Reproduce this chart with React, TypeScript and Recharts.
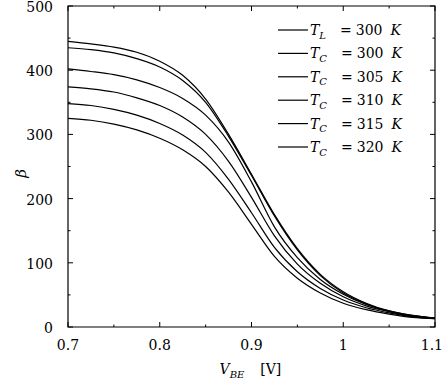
import { Legend, Line, LineChart, ReferenceArea, XAxis, YAxis } from "recharts";

// V_BE sweep (V)
const vbe = [0.7, 0.725, 0.75, 0.775, 0.8, 0.825, 0.85, 0.875, 0.9, 0.925, 0.95, 0.975, 1.0, 1.025, 1.05, 1.075, 1.1];

// current gain beta for each temperature
const betaTL300 = [445, 441, 436, 428, 414, 392, 355, 300, 238, 175, 122, 82, 55, 37, 25, 18, 14];
const betaTC300 = [435, 432, 427, 418, 405, 384, 350, 297, 236, 173, 120, 80, 53, 36, 24, 17, 14];
const betaTC305 = [402, 398, 393, 385, 373, 356, 330, 288, 226, 156, 108, 74, 51, 35, 25, 18, 14];
const betaTC310 = [374, 371, 366, 357, 345, 327, 300, 258, 202, 142, 98, 68, 47, 33, 24, 17, 14];
const betaTC315 = [348, 345, 339, 330, 317, 299, 272, 230, 178, 124, 86, 60, 42, 30, 22, 16, 13];
const betaTC320 = [325, 322, 316, 307, 294, 276, 250, 210, 160, 110, 76, 53, 37, 27, 20, 15, 13];

const seriesKeys = ["tl300", "tc300", "tc305", "tc310", "tc315", "tc320"];
const seriesValues = [betaTL300, betaTC300, betaTC305, betaTC310, betaTC315, betaTC320];
const legendSubs = ["L", "C", "C", "C", "C", "C"];
const legendTemps = ["300", "300", "305", "310", "315", "320"];

const xTicks = [0.7, 0.75, 0.8, 0.85, 0.9, 0.95, 1.0, 1.05, 1.1];
const xTickLabels = ["0.7", "", "0.8", "", "0.9", "", "1", "", "1.1"];
const yTicks = [0, 50, 100, 150, 200, 250, 300, 350, 400, 450, 500];
const yTickLabels = ["0", "", "100", "", "200", "", "300", "", "400", "", "500"];

const data = vbe.map((v, i) => {
  const row: Record<string, number> = { vbe: v };
  seriesKeys.forEach((k, s) => (row[k] = seriesValues[s][i]));
  return row;
});

const W = 444;
const H = 379;
const MARGIN = { top: 6, right: 9, left: 0, bottom: 0 };
const Y_AXIS_W = 68;
const X_AXIS_H = 52;
const PLOT_W = W - MARGIN.right - Y_AXIS_W;
const PLOT_H = H - MARGIN.top - X_AXIS_H;
const FONT = "DejaVu Serif";
const FS = 14;

function XTick(props: any) {
  const { x, y, index } = props;
  const label = xTickLabels[index];
  const len = label ? 5 : 2.5;
  const last = index === xTicks.length - 1;
  return (
    <g>
      <line x1={x} x2={x} y1={y} y2={y - len} stroke="#000" strokeWidth={1} />
      <line x1={x} x2={x} y1={y - PLOT_H} y2={y - PLOT_H + len} stroke="#000" strokeWidth={1} />
      {label && (
        <text
          x={last ? x + 8 : x}
          y={y + 22.5}
          textAnchor={last ? "end" : "middle"}
          fontSize={FS}
          style={{ fontFamily: FONT }}
          fill="#000"
        >
          {label}
        </text>
      )}
    </g>
  );
}

function YTick(props: any) {
  const { x, y, index } = props;
  const label = yTickLabels[index];
  const len = label ? 5 : 2.5;
  return (
    <g>
      <line x1={x} x2={x + len} y1={y} y2={y} stroke="#000" strokeWidth={1} />
      <line x1={x + PLOT_W} x2={x + PLOT_W - len} y1={y} y2={y} stroke="#000" strokeWidth={1} />
      {label && (
        <text x={x - 15} y={y + 6} textAnchor="end" fontSize={FS} style={{ fontFamily: FONT }} fill="#000">
          {label}
        </text>
      )}
    </g>
  );
}

function LegendBox() {
  return (
    <svg width={150} height={150} style={{ display: "block" }}>
      {legendTemps.map((t, i) => {
        const cy = 15 + i * 23.4;
        return (
          <g key={i}>
            <line x1={6} x2={36} y1={cy} y2={cy} stroke="#000" strokeWidth={1.2} />
            <text x={38} y={cy + 5} fontSize={FS} style={{ fontFamily: FONT }} fill="#000">
              <tspan fontStyle="italic">T</tspan>
              <tspan fontStyle="italic" fontSize={10} dy={3.5}>{legendSubs[i]}</tspan>
              <tspan dy={-3.5} dx={14}>=</tspan>
              <tspan dx={4}>{t}</tspan>
              <tspan fontStyle="italic" dx={8}>K</tspan>
            </text>
          </g>
        );
      })}
    </svg>
  );
}

export default function App() {
  return (
    <div style={{ width: W, height: H }}>
      <style>{"body{margin:0}"}</style>
      <LineChart width={W} height={H} data={data} margin={MARGIN}>
        <XAxis
          dataKey="vbe"
          type="number"
          domain={[0.7, 1.1]}
          ticks={xTicks}
          interval={0}
          height={X_AXIS_H}
          tickSize={0}
          tickMargin={0}
          axisLine={false}
          tickLine={false}
          tick={<XTick />}
          label={{
            position: "insideBottom",
            content: (p: any) => {
              const vb = p.viewBox;
              const cx = vb.x + vb.width / 2;
              return (
                <text x={cx - 32} y={vb.y + 47} fontSize={FS} style={{ fontFamily: FONT }} fill="#000">
                  <tspan fontStyle="italic">V</tspan>
                  <tspan fontStyle="italic" fontSize={10} dy={3.5}>BE</tspan>
                  <tspan dy={-3.5} dx={16}>[V]</tspan>
                </text>
              );
            },
          }}
        />
        <YAxis
          type="number"
          domain={[0, 500]}
          ticks={yTicks}
          interval={0}
          width={Y_AXIS_W}
          tickSize={0}
          tickMargin={0}
          axisLine={false}
          tickLine={false}
          tick={<YTick />}
          label={{
            position: "insideLeft",
            content: (p: any) => {
              const vb = p.viewBox;
              const cy = vb.y + vb.height / 2 + 7;
              return (
                <text
                  x={21}
                  y={cy}
                  transform={`rotate(-90 21 ${cy})`}
                  textAnchor="middle"
                  dominantBaseline="central"
                  fontSize={15}
                  fontStyle="italic"
                  style={{ fontFamily: FONT }}
                  fill="#000"
                >
                  β
                </text>
              );
            },
          }}
        />
        <ReferenceArea
          x1={0.7}
          x2={1.1}
          y1={0}
          y2={500}
          fill="#fff"
          fillOpacity={0}
          stroke="#000"
          strokeWidth={1.2}
          ifOverflow="visible"
        />
        {seriesKeys.map((k) => (
          <Line
            key={k}
            dataKey={k}
            type="monotone"
            stroke="#000"
            strokeWidth={1.2}
            dot={false}
            isAnimationActive={false}
          />
        ))}
        <Legend
          layout="vertical"
          align="center"
          verticalAlign="middle"
          content={() => <LegendBox />}
          wrapperStyle={{ position: "absolute", left: 272, top: 15, width: 150, height: 150 }}
        />
      </LineChart>
    </div>
  );
}
